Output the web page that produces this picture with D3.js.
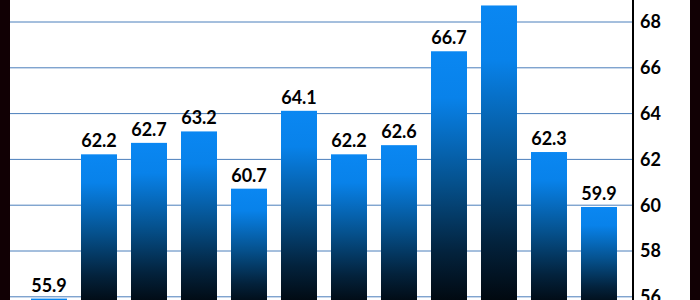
<!DOCTYPE html>
<html>
<head>
<meta charset="utf-8">
<script src="https://cdn.jsdelivr.net/npm/d3@7"></script>
<style>
  html, body { margin: 0; padding: 0; background: #fff; }
  svg { display: block; }
  text { font-family: Lato, "Open Sans", sans-serif; font-weight: 700; fill: #000; }
</style>
</head>
<body>
<svg id="chart" width="700" height="300"></svg>
<script>
// values, left to right
const categories = ["c1", "c2", "c3", "c4", "c5", "c6", "c7", "c8", "c9", "c10", "c11", "c12"];
const values = [55.9, 62.2, 62.7, 63.2, 60.7, 64.1, 62.2, 62.6, 66.7, 68.7, 62.3, 59.9];
const tickValues = [56, 58, 60, 62, 64, 66, 68];

const svg = d3.select("#chart");
const width = +svg.attr("width");
const height = +svg.attr("height");

const axisX = 633;
const plotLeft = 10;
const baseValue = 55.4; // bars continue below the visible frame

const x = d3.scaleBand()
  .domain(categories)
  .range([24, 624])
  .paddingInner(0.28)
  .paddingOuter(0.14);

const y = d3.scaleLinear()
  .domain([56, 68])
  .range([296.3, 21.5]);

// dark frame strips
svg.append("rect").attr("x", 0).attr("y", 0).attr("width", plotLeft).attr("height", height).attr("fill", "#110004");
svg.append("rect").attr("x", 690).attr("y", 0).attr("width", 10).attr("height", height).attr("fill", "#110004");

// gridlines + tick labels on the right
const axis = svg.append("g")
  .attr("transform", `translate(${axisX},0)`)
  .call(d3.axisRight(y).tickValues(tickValues).tickSize(-(axisX - plotLeft)).tickPadding(7).tickFormat(d3.format("d")));
axis.select(".domain").remove();
axis.selectAll(".tick line").attr("stroke", "#4a7ebb").attr("stroke-width", 1);
axis.selectAll(".tick text")
  .attr("x", 7)
  .attr("dy", "0.36em")
  .style("font-size", "18px")
  .attr("fill", "#000");

// gradient per bar, bright blue on top fading to black
const defs = svg.append("defs");
const grad = defs.append("linearGradient")
  .attr("id", "barGrad")
  .attr("x1", 0).attr("x2", 0)
  .attr("y1", 0).attr("y2", 1);
[
  ["0%", "#0a87f2"],
  ["18%", "#0882ea"],
  ["50%", "#05528f"],
  ["78%", "#03223c"],
  ["100%", "#010408"]
].forEach(([o, c]) => grad.append("stop").attr("offset", o).attr("stop-color", c));

svg.append("g")
  .selectAll("rect")
  .data(values)
  .join("rect")
  .attr("x", (d, i) => x(categories[i]))
  .attr("y", d => y(d))
  .attr("width", x.bandwidth())
  .attr("height", d => Math.max(0, y(baseValue) - y(d)))
  .attr("fill", "url(#barGrad)");

svg.append("g")
  .selectAll("text")
  .data(values)
  .join("text")
  .attr("x", (d, i) => x(categories[i]) + x.bandwidth() / 2)
  .attr("y", d => y(d) - 7)
  .attr("text-anchor", "middle")
  .style("font-size", "18px")
  .text(d => d.toFixed(1));

// right axis line
svg.append("line")
  .attr("x1", axisX).attr("x2", axisX)
  .attr("y1", 0).attr("y2", height)
  .attr("stroke", "#000")
  .attr("stroke-width", 2);
</script>
</body>
</html>
